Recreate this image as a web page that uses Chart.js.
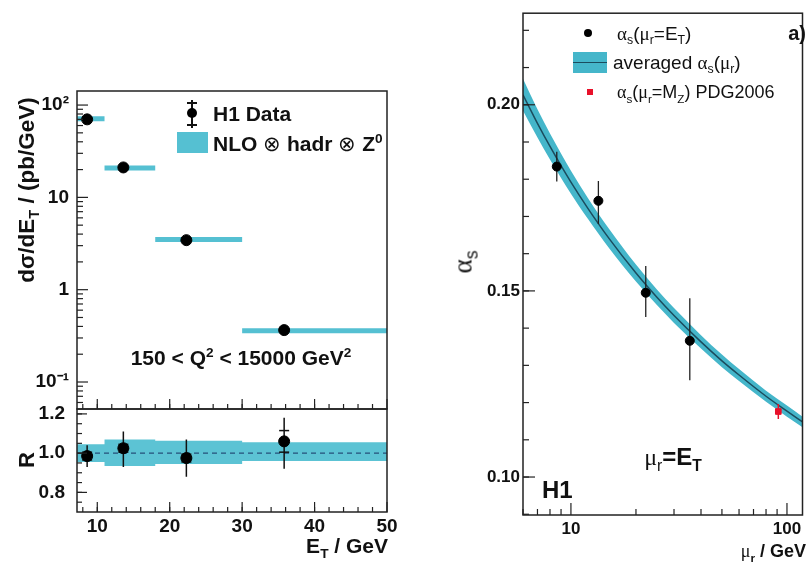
<!DOCTYPE html>
<html><head><meta charset="utf-8">
<script src="https://cdn.jsdelivr.net/npm/chart.js@4.4.1/dist/chart.umd.min.js"></script>
<style>
html,body{margin:0;padding:0;background:#fff;}
#wrap{position:relative;width:808px;height:562px;overflow:hidden;font-family:"Liberation Sans",Arial,sans-serif;color:#111;}
canvas{position:absolute;left:0;top:0;}
.t{position:absolute;white-space:nowrap;line-height:1;}
.b{font-weight:bold;}
.c{transform:translate(-50%,-50%);}
.l{transform:translate(0,-50%);}
.r{transform:translate(-100%,-50%);}
.rot{transform:translate(-50%,-50%) rotate(-90deg);}
sub,sup{font-size:65%;line-height:0;}
.sym{font-family:"Liberation Serif","DejaVu Serif",serif;}
.sw{position:absolute;}
</style></head>
<body><div id="wrap">
<canvas id="c1" width="808" height="562"></canvas>
<canvas id="c2" width="808" height="562"></canvas>
<canvas id="c3" width="808" height="562"></canvas>

<!-- left panel texts -->
<div class="t b rot" style="left:27px;top:190px;font-size:22.5px;">dσ/dE<sub>T</sub> / (pb/GeV)</div>
<div class="t b rot" style="left:27px;top:460px;font-size:22px;">R</div>
<div class="t b r" style="left:388px;top:545px;font-size:21px;">E<sub>T</sub> / GeV</div>
<div class="t b c" style="left:241px;top:357px;font-size:21px;">150 &lt; Q<sup>2</sup> &lt; 15000 GeV<sup>2</sup></div>
<div class="t b l" style="left:213px;top:113px;font-size:21px;">H1 Data</div>
<div class="t b l" style="left:213px;top:143px;font-size:21px;">NLO <span style="font-weight:normal">⊗</span> hadr <span style="font-weight:normal">⊗</span> Z<sup>0</sup></div>
<div class="sw" style="left:191px;top:100px;width:1.5px;height:28px;background:#111;"></div>
<div class="sw" style="left:187px;top:102px;width:10px;height:1.5px;background:#111;"></div>
<div class="sw" style="left:187px;top:124px;width:10px;height:1.5px;background:#111;"></div>
<div class="sw" style="left:187px;top:108px;width:10px;height:10px;border-radius:50%;background:#000;"></div>
<div class="sw" style="left:177px;top:132px;width:31px;height:21px;background:#55c0d2;"></div>

<!-- right panel texts -->
<div class="t rot sym" style="left:463px;top:262px;font-size:27px;">α<sub style="font-family:'Liberation Sans',Arial,sans-serif">s</sub></div>
<div class="t b r" style="left:806px;top:551px;font-size:18px;"><span class="sym" style="font-weight:normal">μ</span><sub>r</sub> / GeV</div>
<div class="sw" style="left:584px;top:29px;width:8px;height:8px;border-radius:50%;background:#000;"></div>
<div class="t l" style="left:617px;top:33px;font-size:19px;"><span class="sym">α</span><sub>s</sub>(<span class="sym">μ</span><sub>r</sub>=E<sub>T</sub>)</div>
<div class="sw" style="left:573px;top:52px;width:34px;height:21px;background:#45b6ca;"></div>
<div class="sw" style="left:573px;top:61.5px;width:34px;height:1.5px;background:#1b4c5e;"></div>
<div class="t l" style="left:613px;top:62px;font-size:19px;">averaged <span class="sym">α</span><sub>s</sub>(<span class="sym">μ</span><sub>r</sub>)</div>
<div class="sw" style="left:587px;top:89px;width:6px;height:6px;background:#e8102a;"></div>
<div class="t l" style="left:617px;top:92px;font-size:18px;"><span class="sym">α</span><sub>s</sub>(<span class="sym">μ</span><sub>r</sub>=M<sub>Z</sub>) PDG2006</div>
<div class="t b r" style="left:806px;top:33px;font-size:20px;">a)</div>
<div class="t c" style="left:673px;top:457px;font-size:24px;"><span class="sym">μ</span><sub>r</sub><b>=E<sub>T</sub></b></div>
<div class="t b l" style="left:542px;top:490px;font-size:24px;">H1</div>
</div>
<script>
// ---------- Left panel data ----------
const etEdges     = [7, 11, 18, 30, 50];
const etCenters   = [8.6, 13.6, 22.3, 35.8];
const xsec        = [70, 21.1, 3.44, 0.365];
const xsecLo      = [65, 19.6, 3.2, 0.335];
const xsecHi      = [75, 22.7, 3.7, 0.395];
const nloXsec     = [71, 20.8, 3.5, 0.36];
const ratio       = [0.985, 1.025, 0.975, 1.06];
const ratioTotLo  = [0.93, 0.93, 0.88, 0.92];
const ratioTotHi  = [1.04, 1.11, 1.07, 1.18];
const ratioStatLo = [0.965, 1.005, 0.955, 1.005];
const ratioStatHi = [1.005, 1.045, 0.995, 1.115];
const nloRatioLo  = [0.955, 0.935, 0.945, 0.96];
const nloRatioHi  = [1.045, 1.07, 1.063, 1.055];
const ratioRef    = 1.0;
const topYTicks   = [0.1, 1, 10, 100];
const topYLabels  = ['10⁻¹', '1', '10', '10²'];
const etTicks     = [10, 20, 30, 40, 50];
const ratioTicks  = [0.8, 1.0, 1.2];
// ---------- Right panel data ----------
const muPoints    = [8.6, 13.4, 22.2, 35.5];
const alphaS      = [0.1834, 0.1742, 0.1495, 0.1366];
const alphaSLo    = [0.1794, 0.1680, 0.1430, 0.1260];
const alphaSHi    = [0.1874, 0.1795, 0.1567, 0.1480];
const muPDG       = [91.19];
const alphaPDG    = [0.1176];
const alphaPDGLo  = [0.1156];
const alphaPDGHi  = [0.1196];
const muCurve     = [6, 7, 8, 10, 12, 15, 20, 25, 30, 40, 50, 60, 80, 100, 118];
const alphaAvg    = [0.2027, 0.1950, 0.1888, 0.1792, 0.1721, 0.1641, 0.1548, 0.1483, 0.1434, 0.1363, 0.1312, 0.1274, 0.1217, 0.1177, 0.1148];
const alphaAvgHi  = [0.2070, 0.1988, 0.1923, 0.1823, 0.1749, 0.1667, 0.1571, 0.1504, 0.1454, 0.1381, 0.1329, 0.1290, 0.1232, 0.1192, 0.1162];
const alphaAvgLo  = [0.1984, 0.1912, 0.1853, 0.1761, 0.1693, 0.1615, 0.1525, 0.1462, 0.1414, 0.1345, 0.1295, 0.1258, 0.1202, 0.1162, 0.1134];
const muTicks     = [10, 100];
const alphaTicks  = [0.10, 0.15, 0.20];

const FONT = "'Liberation Sans', Arial, sans-serif";
const TEAL = '#55c0d2';

const pts = (xs, ys) => xs.map((x, i) => ({x, y: ys[i]}));
const errSeg = (xs, lo, hi) => { const d = []; xs.forEach((x, i) => d.push({x, y: lo[i]}, {x, y: hi[i]}, {x, y: null})); return d; };
const binSeg = (edges, v) => { const d = []; v.forEach((y, i) => d.push({x: edges[i], y}, {x: edges[i + 1], y}, {x: edges[i + 1], y: null})); return d; };
const stepPts = (edges, v) => edges.map((x, i) => ({x, y: v[Math.min(i, v.length - 1)]}));
const range = (a, b, s) => { const r = []; for (let v = a; v <= b + 1e-9; v += s) r.push(+v.toFixed(6)); return r; };
const logMinor = (decs) => { const r = []; decs.forEach(d => { for (let k = 2; k <= 9; k++) r.push(k * d); }); return r; };

const frameTicks = {
  id: 'frameTicks',
  afterDatasetsDraw(chart, args, opts) {
    const {ctx, chartArea: a} = chart;
    ctx.save();
    ctx.strokeStyle = '#222'; ctx.lineWidth = 1.2;
    (opts.ticks || []).forEach(t => {
      const sc = chart.scales[t.axis];
      t.values.forEach(v => {
        const p = sc.getPixelForValue(v);
        if (t.side === 'left' && (p < a.top - 0.5 || p > a.bottom + 0.5)) return;
        if (t.side === 'bottom' && (p < a.left - 0.5 || p > a.right + 0.5)) return;
        ctx.beginPath();
        if (t.side === 'left') { ctx.moveTo(a.left, p); ctx.lineTo(a.left + t.len, p); }
        else { ctx.moveTo(p, a.bottom); ctx.lineTo(p, a.bottom - t.len); }
        ctx.stroke();
      });
    });
    ctx.lineWidth = 1.5; ctx.strokeStyle = '#222';
    ctx.strokeRect(a.left, a.top, a.right - a.left, a.bottom - a.top);
    ctx.restore();
  }
};

const base = (padding) => ({
  responsive: false, animation: false, devicePixelRatio: 1,
  layout: {padding},
  plugins: {legend: {display: false}, tooltip: {enabled: false}},
});
const tickFont = (size) => ({family: FONT, size, weight: 'bold'});
const noGrid = {grid: {display: false}, border: {display: false}};

// ---------- Chart 1: cross section ----------
new Chart(document.getElementById('c1'), {
  type: 'line',
  data: {datasets: [
    {data: pts(etCenters, xsec), showLine: false, pointRadius: 5.5, pointBackgroundColor: '#000', pointBorderColor: '#000'},
    {data: errSeg(etCenters, xsecLo, xsecHi), borderColor: '#111', borderWidth: 1.5, pointRadius: 0, spanGaps: false},
    {data: binSeg(etEdges, nloXsec), borderColor: TEAL, borderWidth: 5, pointRadius: 0, spanGaps: false, borderCapStyle: 'butt'},
  ]},
  options: Object.assign(base({left: 7, top: 91, right: 421, bottom: 153}), {
    scales: {
      x: Object.assign({type: 'linear', min: 7.2, max: 50, display: false}, noGrid),
      y: Object.assign({type: 'logarithmic', min: 0.051, max: 142,
        afterFit: s => { s.width = 70; },
        afterBuildTicks: s => { s.ticks = topYTicks.map(v => ({value: v})); },
        ticks: {autoSkip: false, padding: 8, color: '#111', font: tickFont(19),
          callback: (v) => { const i = topYTicks.findIndex(t => Math.abs(t - v) / t < 1e-6); return i >= 0 ? topYLabels[i] : ''; }}
      }, noGrid, {grid: {display: false, drawTicks: false}})
    },
    plugins: Object.assign(base({}).plugins, {frameTicks: {ticks: [
      {axis: 'y', side: 'left', len: 11, values: topYTicks},
      {axis: 'y', side: 'left', len: 6, values: logMinor([0.01, 0.1, 1, 10, 100])},
      {axis: 'x', side: 'bottom', len: 10, values: etTicks},
      {axis: 'x', side: 'bottom', len: 5, values: range(8, 48, 2)},
    ]}})
  }),
  plugins: [frameTicks]
});

// ---------- Chart 2: ratio ----------
new Chart(document.getElementById('c2'), {
  type: 'line',
  data: {datasets: [
    {data: pts(etCenters, ratio), showLine: false, pointRadius: 5.5, pointBackgroundColor: '#000', pointBorderColor: '#000'},
    {data: pts(etCenters, ratioStatLo).concat(pts(etCenters, ratioStatHi)), showLine: false, pointStyle: 'line', pointRadius: 5, pointBorderWidth: 1.5, pointBorderColor: '#111'},
    {data: errSeg(etCenters, ratioTotLo, ratioTotHi), borderColor: '#111', borderWidth: 1.5, pointRadius: 0, spanGaps: false},
    {data: [{x: 7.2, y: ratioRef}, {x: 50, y: ratioRef}], borderColor: '#24507a', borderWidth: 1.3, borderDash: [5, 4], pointRadius: 0},
    {data: stepPts(etEdges, nloRatioHi), stepped: true, borderWidth: 0, pointRadius: 0, fill: '+1', backgroundColor: '#5cc3d4'},
    {data: stepPts(etEdges, nloRatioLo), stepped: true, borderWidth: 0, pointRadius: 0, fill: false},
  ]},
  options: Object.assign(base({left: 7, top: 409, right: 421, bottom: 20}), {
    scales: {
      x: Object.assign({type: 'linear', min: 7.2, max: 50,
        afterFit: s => { s.height = 30; },
        afterBuildTicks: s => { s.ticks = etTicks.map(v => ({value: v})); },
        ticks: {autoSkip: false, maxRotation: 0, padding: 3, color: '#111', font: tickFont(19)}
      }, noGrid, {grid: {display: false, drawTicks: false}}),
      y: Object.assign({type: 'linear', min: 0.7, max: 1.225,
        afterFit: s => { s.width = 70; },
        afterBuildTicks: s => { s.ticks = ratioTicks.map(v => ({value: v})); },
        ticks: {autoSkip: false, padding: 12, color: '#111', font: tickFont(19), callback: v => v.toFixed(1)}
      }, noGrid, {grid: {display: false, drawTicks: false}})
    },
    plugins: Object.assign(base({}).plugins, {frameTicks: {ticks: [
      {axis: 'y', side: 'left', len: 10, values: ratioTicks},
      {axis: 'y', side: 'left', len: 5, values: range(0.75, 1.2, 0.05)},
      {axis: 'x', side: 'bottom', len: 10, values: etTicks},
      {axis: 'x', side: 'bottom', len: 5, values: range(8, 48, 2)},
    ]}})
  }),
  plugins: [frameTicks]
});

// ---------- Chart 3: alpha_s running ----------
new Chart(document.getElementById('c3'), {
  type: 'line',
  data: {datasets: [
    {data: pts(muPDG, alphaPDG), showLine: false, pointStyle: 'rect', pointRadius: 4, pointBackgroundColor: '#e8102a', pointBorderColor: '#e8102a'},
    {data: errSeg(muPDG, alphaPDGLo, alphaPDGHi), borderColor: '#e8102a', borderWidth: 1.5, pointRadius: 0, spanGaps: false},
    {data: pts(muPoints, alphaS), showLine: false, pointRadius: 4.5, pointBackgroundColor: '#000', pointBorderColor: '#000'},
    {data: errSeg(muPoints, alphaSLo, alphaSHi), borderColor: '#222', borderWidth: 1.3, pointRadius: 0, spanGaps: false},
    {data: pts(muCurve, alphaAvg), borderColor: '#1b4c5e', borderWidth: 1.5, pointRadius: 0, cubicInterpolationMode: 'monotone'},
    {data: pts(muCurve, alphaAvgHi), borderWidth: 0, pointRadius: 0, cubicInterpolationMode: 'monotone', fill: '+1', backgroundColor: '#45b6ca'},
    {data: pts(muCurve, alphaAvgLo), borderWidth: 0, pointRadius: 0, cubicInterpolationMode: 'monotone', fill: false},
  ]},
  options: Object.assign(base({left: 463, top: 13, right: 2, bottom: 17}), {
    scales: {
      x: Object.assign({type: 'logarithmic', min: 6, max: 118,
        afterFit: s => { s.height = 30; },
        afterBuildTicks: s => { s.ticks = muTicks.map(v => ({value: v})); },
        ticks: {autoSkip: false, maxRotation: 0, padding: 4, color: '#111', font: tickFont(17), callback: v => String(v)}
      }, noGrid, {grid: {display: false, drawTicks: false}}),
      y: Object.assign({type: 'linear', min: 0.0898, max: 0.2246,
        afterFit: s => { s.width = 60; },
        afterBuildTicks: s => { s.ticks = alphaTicks.map(v => ({value: v})); },
        ticks: {autoSkip: false, padding: 3, color: '#111', font: tickFont(17), callback: v => v.toFixed(2)}
      }, noGrid, {grid: {display: false, drawTicks: false}})
    },
    plugins: Object.assign(base({}).plugins, {frameTicks: {ticks: [
      {axis: 'y', side: 'left', len: 12, values: alphaTicks},
      {axis: 'y', side: 'left', len: 6, values: range(0.09, 0.22, 0.01)},
      {axis: 'x', side: 'bottom', len: 12, values: muTicks},
      {axis: 'x', side: 'bottom', len: 6, values: logMinor([1, 10, 100])},
    ]}})
  }),
  plugins: [frameTicks]
});
</script>
</body></html>
